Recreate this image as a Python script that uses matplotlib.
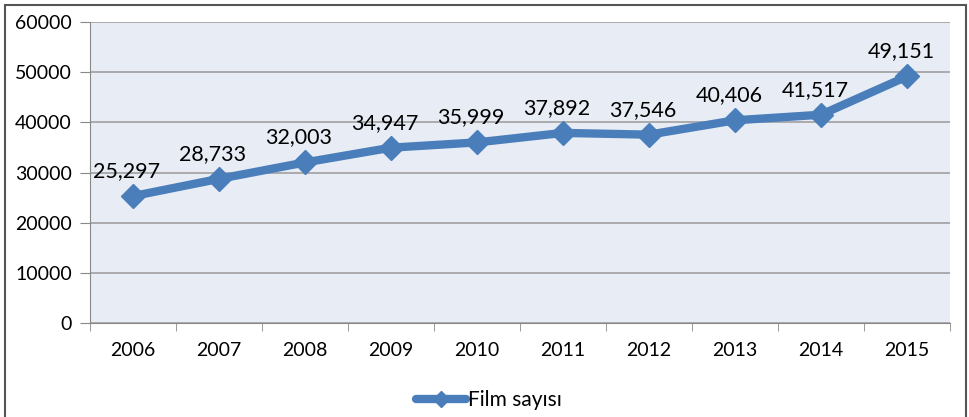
import numpy as np
import matplotlib.pyplot as plt
from matplotlib.patches import Rectangle
from matplotlib.lines import Line2D

years = ['2006', '2007', '2008', '2009', '2010', '2011', '2012', '2013', '2014', '2015']
films = [25297, 28733, 32003, 34947, 35999, 37892, 37546, 40406, 41517, 49151]
series_name = 'Film sayısı'

plt.rcParams['font.family'] = ['Lato', 'DejaVu Sans']
blue = '#4a7ebb'

fig = plt.figure(figsize=(9.7, 4.17), dpi=100)
W, H = 970, 417
ax = fig.add_axes([90 / W, 1 - 323 / H, 860 / W, 301 / H])
ax.set_facecolor('#e8ecf4')

x = np.arange(len(years))
ax.plot(x, films, color=blue, lw=6, marker='D', ms=12, mec=blue, mfc=blue,
        solid_joinstyle='round', zorder=3, clip_on=False)
for xi, v in zip(x, films):
    ax.annotate(f'{v:,}', (xi, v), xytext=(-6, 15), textcoords='offset pixels',
                ha='center', va='bottom', fontsize=15.5, color='black')

ax.set_xlim(-0.5, len(years) - 0.5)
ax.set_ylim(0, 60000)
ax.set_yticks(np.arange(0, 60001, 10000))
ax.set_yticklabels([str(t) for t in range(0, 60001, 10000)], fontsize=14)
ax.set_xticks(x)
ax.set_xticklabels(years, fontsize=14)
ax.set_xticks(np.arange(-0.5, len(years)), minor=True)
ax.tick_params(axis='x', which='major', length=0, pad=14)
ax.tick_params(axis='x', which='minor', length=6, color='#888888')
ax.tick_params(axis='y', length=7, color='#888888', pad=6)
ax.grid(axis='y', color='#a0a0a0', lw=1.2)
ax.set_axisbelow(True)
for s in ['top', 'right']:
    ax.spines[s].set_visible(False)
for s in ['left', 'bottom']:
    ax.spines[s].set_color('#888888')

handle = Line2D([], [], color=blue, lw=6, marker='D', ms=8, solid_capstyle='round')
fig.legend([handle], [series_name], loc='center', bbox_to_anchor=(489 / W, 1 - 400 / H),
           frameon=False, fontsize=15, handlelength=2.4, handletextpad=0.1)

fig.patches.append(Rectangle((5 / W, -0.05), 961 / W, 1 - 5 / H + 0.05,
                             transform=fig.transFigure, fill=False, ec='#555555', lw=1.5))

fig.savefig('out.png', dpi=100)
